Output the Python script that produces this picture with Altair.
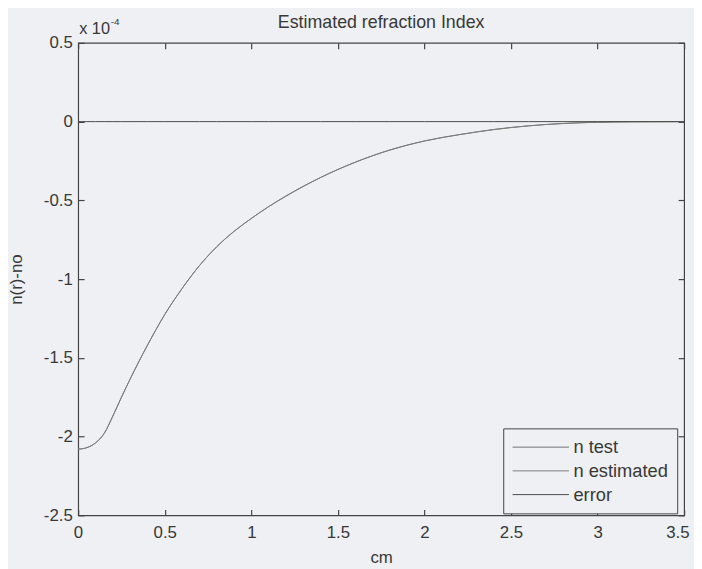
import altair as alt
import pandas as pd

# ---- data (values in units of 1e-4) ----
x_cm = [0.0, 0.05, 0.1, 0.15, 0.2, 0.25, 0.3, 0.4, 0.5, 0.6, 0.7, 0.8, 0.9, 1.0,
        1.1, 1.2, 1.4, 1.6, 1.8, 2.0, 2.2, 2.4, 2.6, 2.8, 3.0, 3.2, 3.5]
n_test = [-2.08, -2.07, -2.04, -1.98, -1.87, -1.75, -1.635, -1.42, -1.225, -1.06,
          -0.915, -0.795, -0.697, -0.615, -0.54, -0.472, -0.355, -0.258, -0.18,
          -0.123, -0.083, -0.05, -0.027, -0.012, -0.004, -0.001, 0.0]
n_estimated = [-2.08, -2.07, -2.04, -1.98, -1.87, -1.75, -1.635, -1.42, -1.225, -1.06,
               -0.915, -0.795, -0.697, -0.615, -0.54, -0.474, -0.355, -0.258, -0.181,
               -0.123, -0.083, -0.051, -0.027, -0.012, -0.004, -0.001, 0.0]
error = [0.0] * len(x_cm)

series_names = ["n test", "n estimated", "error"]
series_colors = ["#727272", "#7c7c7c", "#4a4a4a"]
series_widths = [1.0, 1.0, 1.6]

x_ticks = [0, 0.5, 1, 1.5, 2, 2.5, 3, 3.5]
y_ticks = [-2.5, -2, -1.5, -1, -0.5, 0, 0.5]

title_text = "Estimated refraction Index"
x_title = "cm"
y_title = "n(r)-no"
exp_base = "x 10"
exp_power = "-4"

rows = []
for name, vals in zip(series_names, [n_test, n_estimated, error]):
    for i, (xv, yv) in enumerate(zip(x_cm, vals)):
        rows.append({"x": xv, "y": yv, "series": name, "order": i})
df = pd.DataFrame(rows)

FONT = "Liberation Sans"
BG = "#eef0f3"
TXT = "#383838"

xscale = alt.Scale(domain=[0, 3.5], nice=False, zero=False)
yscale = alt.Scale(domain=[-2.5, 0.5], nice=False, zero=False)

lines = alt.Chart(df).mark_line(interpolate="monotone").encode(
    x=alt.X("x:Q", scale=xscale,
            axis=alt.Axis(title=x_title, values=x_ticks, grid=False, domain=False,
                          tickSize=6, offset=-6, labelPadding=9, labelFlush=True,
                          labelFlushOffset=5,
                          labelExpr="'' + datum.value", titlePadding=10)),
    y=alt.Y("y:Q", scale=yscale,
            axis=alt.Axis(title=y_title, values=y_ticks, grid=False, domain=False,
                          tickSize=6, offset=-6, labelPadding=6, labelFlush=False,
                          labelExpr="'' + datum.value", titlePadding=18)),
    color=alt.Color("series:N",
                    scale=alt.Scale(domain=series_names, range=series_colors),
                    legend=alt.Legend(title=None, orient="none", legendX=430, legendY=390,
                                      symbolType="M-1,0H5", symbolSize=361,
                                      symbolStrokeWidth=1.2, labelOffset=42,
                                      rowPadding=4, padding=9,
                                      strokeColor="#444", fillColor=BG,
                                      labelFont=FONT, labelFontSize=18.5,
                                      labelColor=TXT)),
    strokeWidth=alt.StrokeWidth("series:N",
                                scale=alt.Scale(domain=series_names, range=series_widths),
                                legend=None),
    order="order:Q",
)

ticks_other = alt.Chart(df).mark_point(opacity=0).encode(
    x=alt.X("x:Q", scale=xscale,
            axis=alt.Axis(orient="top", title=None, values=x_ticks, labels=False,
                          grid=False, domain=False, tickSize=6, offset=-6)),
    y=alt.Y("y:Q", scale=yscale,
            axis=alt.Axis(orient="right", title=None, values=y_ticks, labels=False,
                          grid=False, domain=False, tickSize=6, offset=-6)),
)

ann_df = pd.DataFrame({"x": [0.0], "y": [0.5], "base": [exp_base], "pw": [exp_power]})
ann_base = alt.Chart(ann_df).mark_text(align="left", baseline="alphabetic", dx=1, dy=-9,
                                       font=FONT, fontSize=16.5, color=TXT).encode(
    x=alt.X("x:Q", scale=xscale, axis=None),
    y=alt.Y("y:Q", scale=yscale, axis=None),
    text="base:N")
ann_pow = alt.Chart(ann_df).mark_text(align="left", baseline="alphabetic", dx=33, dy=-18,
                                      font=FONT, fontSize=10, color=TXT).encode(
    x=alt.X("x:Q", scale=xscale, axis=None),
    y=alt.Y("y:Q", scale=yscale, axis=None),
    text="pw:N")

chart = alt.layer(lines, ticks_other, ann_base, ann_pow).resolve_axis(
    x="independent", y="independent"
).properties(
    width=613, height=478,
    title=alt.TitleParams(title_text, font=FONT, fontSize=18, fontWeight="normal",
                          color=TXT, offset=0, dy=15),
    autosize=alt.AutoSizeParams(type="none"),
    padding={"left": 71, "top": 32, "right": 10, "bottom": 51},
    background=BG,
).configure_view(
    stroke="#444", strokeWidth=1.2, fill=BG
).configure_axis(
    labelFont=FONT, labelFontSize=17, labelColor=TXT, tickColor="#444",
    titleFont=FONT, titleFontSize=17, titleColor=TXT, titleFontWeight="normal",
    tickWidth=1.2,
)

chart.save("out.html", embed_options={"renderer": "svg", "actions": False})
